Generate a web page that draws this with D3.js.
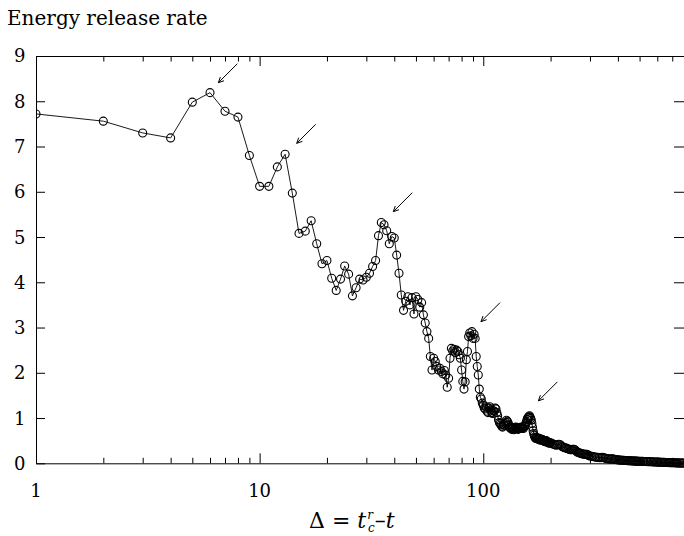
<!DOCTYPE html>
<html>
<head>
<meta charset="utf-8">
<script src="https://cdn.jsdelivr.net/npm/d3@7/dist/d3.min.js"></script>
<style>
  body { margin: 0; background: #fff; }
  svg { display: block; }
  text { font-family: "DejaVu Serif", "Liberation Serif", serif; fill: #000; }
</style>
</head>
<body>
<svg id="chart" width="684" height="536"></svg>
<script>
// Energy release rate against time to rupture, Δ = t_c^r − t (log scale)
const deltaEarly = [1,2,3,4,5,6,7,8,9,10, 11,12,13,14,15,16,17,18,19,20,
  21,22,23,24,25,26,27,28,29,30, 31,32,33,34,35,36,37,38,39,40,
  41,42,43,44,45,46,47,48,49,50, 51,52,53,54,55,56,57,58,59,60,
  61,62,63,64,65,66,67,68,69,70, 71,72,73,74,75,76,77,78,79,80,
  81,82,83,84,85,86,87,88,89,90, 91,92,93,94,95,96,97,98,99];
const energyEarly = [7.72,7.56,7.30,7.19,7.98,8.19,7.78,7.65,6.80,6.12,
  6.12,6.55,6.83,5.97,5.08,5.13,5.36,4.85,4.41,4.48,
  4.09,3.82,4.07,4.36,4.18,3.70,3.88,4.07,4.05,4.11,
  4.20,4.35,4.48,5.03,5.32,5.27,5.14,4.85,5.01,4.98,
  4.60,4.20,3.72,3.38,3.58,3.68,3.50,3.66,3.30,3.68,
  3.62,3.45,3.55,3.28,3.10,2.91,2.76,2.36,2.06,2.32,
  2.25,2.14,2.06,2.10,2.03,1.98,2.05,1.95,1.68,1.88,
  2.32,2.54,2.48,2.52,2.45,2.50,2.47,2.40,2.32,2.06,
  1.81,1.64,1.80,2.29,2.47,2.80,2.88,2.82,2.91,2.76,
  2.85,2.76,2.36,2.14,1.95,1.64,1.46,1.42,1.33];

const deltaMid = [100,101,102,103,104,105,106,107,108,109,
  110,111,112,113,114,115,116,117,118,119,
  120,121,122,123,124,125,126,127,128,129,
  130,131,132,133,134,135,136,137,138,139,
  140,141,142,143,144,145,146,147,148,149,
  150,151,152,153,154,155,156,157,158,159,
  160,161,162,163,164,165,166,167,168,169,
  170,171,172,173,174,175,176,177,178,179,
  180,181,182,183,184,185,186,187,188,189,
  190,191,192,193,194,195,196,197,198,199];
const energyMid = [1.28,1.22,1.20,1.25,1.15,1.12,1.22,1.25,1.18,1.12,
  1.10,1.16,1.15,1.22,1.20,1.12,1.05,0.96,0.90,0.88,
  0.85,0.82,0.80,0.86,0.84,0.88,0.90,0.95,0.93,0.90,
  0.85,0.80,0.78,0.80,0.75,0.77,0.78,0.74,0.76,0.79,
  0.80,0.77,0.78,0.75,0.76,0.78,0.79,0.77,0.80,0.79,
  0.78,0.77,0.80,0.82,0.84,0.88,0.92,0.97,1.00,1.02,
  1.03,1.05,1.02,0.99,0.95,0.88,0.80,0.72,0.66,0.62,
  0.58,0.56,0.55,0.57,0.56,0.54,0.53,0.55,0.55,0.53,
  0.51,0.52,0.53,0.53,0.52,0.51,0.50,0.49,0.48,0.48,
  0.49,0.50,0.49,0.48,0.47,0.46,0.45,0.45,0.46,0.45];

const deltaTail = [200,203,206,209,212,215,218,221,224,227,230,233,236,239,242,245,248,
  251,254,257,260,263,266,269,272,275,278,281,284,287,290,293,296,
  300,305,310,315,320,325,330,335,340,345,350,355,360,365,370,375,380,385,390,395,
  400,405,410,415,420,425,430,435,440,445,450,455,460,465,470,475,480,485,490,495,
  500,508,516,524,532,540,548,556,564,572,580,588,596,604,612,620,628,636,644,652,
  660,668,676,684,692,700,708,716,724,732,740,748,756,764,772,780,788];
const energyTail = [0.45,0.44,0.42,0.41,0.40,0.41,0.42,0.41,0.38,0.36,0.35,0.34,0.33,0.32,0.31,0.30,0.30,
  0.31,0.31,0.30,0.27,0.25,0.24,0.23,0.22,0.21,0.21,0.20,0.20,0.20,0.20,0.19,0.17,
  0.160,0.155,0.150,0.140,0.135,0.130,0.125,0.125,0.130,0.125,0.115,0.105,0.100,0.097,0.095,0.097,0.098,0.090,0.083,0.078,
  0.075,0.073,0.070,0.068,0.066,0.064,0.063,0.062,0.060,0.058,0.057,0.055,0.054,0.052,0.050,0.049,0.048,0.047,0.046,0.045,
  0.044,0.043,0.042,0.040,0.039,0.037,0.036,0.034,0.033,0.031,0.030,0.029,0.027,0.026,0.025,0.023,0.022,0.021,0.020,0.019,
  0.018,0.017,0.016,0.015,0.014,0.013,0.012,0.011,0.010,0.009,0.008,0.008,0.007,0.006,0.006,0.005,0.005];

const xMajorTicks = [1, 10, 100];
const xMinorTicks = [2,3,4,5,6,7,8,9,20,30,40,50,60,70,80,90,200,300,400,500,600,700];
const yTicks = [0,1,2,3,4,5,6,7,8,9];

// precursor peaks marked with arrows
const arrowDelta = [6.54, 14.65, 39.6, 97.7, 176.4];
const arrowEnergy = [8.41, 7.07, 5.56, 3.13, 1.38];

const delta = deltaEarly.concat(deltaMid, deltaTail);
const energy = energyEarly.concat(energyMid, energyTail);
const points = delta.map((d, i) => ({ d: d, e: energy[i] }));

const W = 684, H = 536;
const mLeft = 36, mRight = 684, mTop = 56, mBottom = 463.3;

const svg = d3.select("#chart");
const x = d3.scaleLog().domain([1, 790]).range([mLeft, mRight]);
const y = d3.scaleLinear().domain([0, 9]).range([mBottom, mTop]);

// tick marks point into the frame on all four sides
function styleAxis(g) {
  g.select(".domain").remove();
  g.selectAll(".tick line").attr("stroke", "#000").attr("stroke-width", 1);
  g.selectAll(".tick text").remove();
}
svg.append("g").attr("transform", `translate(0,${mBottom})`)
  .call(d3.axisBottom(x).tickValues(xMajorTicks).tickSize(-10).tickFormat(""))
  .call(styleAxis);
svg.append("g").attr("transform", `translate(0,${mBottom})`)
  .call(d3.axisBottom(x).tickValues(xMinorTicks).tickSize(-5.5).tickFormat(""))
  .call(styleAxis);
svg.append("g").attr("transform", `translate(0,${mTop})`)
  .call(d3.axisTop(x).tickValues(xMajorTicks).tickSize(-10).tickFormat(""))
  .call(styleAxis);
svg.append("g").attr("transform", `translate(0,${mTop})`)
  .call(d3.axisTop(x).tickValues(xMinorTicks).tickSize(-5.5).tickFormat(""))
  .call(styleAxis);
svg.append("g").attr("transform", `translate(${mLeft},0)`)
  .call(d3.axisLeft(y).tickValues(yTicks).tickSize(-9).tickFormat(""))
  .call(styleAxis);
svg.append("g").attr("transform", `translate(${mRight},0)`)
  .call(d3.axisRight(y).tickValues(yTicks).tickSize(-10).tickFormat(""))
  .call(styleAxis);

// frame
svg.append("path")
  .attr("d", `M${mRight + 1},${mTop + 0.5}H${mLeft + 0.5}V${mBottom + 0.5}H${mRight + 1}`)
  .attr("fill", "none").attr("stroke", "#000").attr("stroke-width", 1);

// tick labels
svg.append("g").selectAll("text").data(yTicks).join("text")
  .attr("x", 25.5).attr("y", d => y(d)).attr("dy", "0.36em")
  .attr("text-anchor", "end").attr("font-size", 18)
  .text(d => d);
svg.append("g").selectAll("text").data(xMajorTicks).join("text")
  .attr("x", d => x(d)).attr("y", 497)
  .attr("text-anchor", "middle").attr("font-size", 18)
  .text(d => d);

// titles
svg.append("text").attr("x", 7).attr("y", 25).attr("font-size", 20)
  .text("Energy release rate");
const xt = svg.append("text").attr("x", 309).attr("y", 528).attr("font-size", 22);
xt.append("tspan").text("Δ = ");
xt.append("tspan").attr("font-style", "italic").text("t");
xt.append("tspan").attr("font-style", "italic").attr("font-size", 12).attr("dx", 1).attr("dy", -9).text("r");
xt.append("tspan").attr("font-style", "italic").attr("font-size", 12).attr("dx", -5).attr("dy", 13).text("c");
xt.append("tspan").attr("dy", -4).text("–");
xt.append("tspan").attr("font-style", "italic").text("t");

// data
svg.append("clipPath").attr("id", "plotclip")
  .append("rect").attr("x", mLeft).attr("y", 0).attr("width", W - mLeft).attr("height", H);
const plot = svg.append("g").attr("clip-path", "url(#plotclip)");

plot.append("path").datum(points)
  .attr("d", d3.line().x(p => x(p.d)).y(p => y(p.e)))
  .attr("fill", "none").attr("stroke", "#000").attr("stroke-width", 0.9);

plot.append("g").selectAll("circle").data(points).join("circle")
  .attr("cx", p => x(p.d)).attr("cy", p => y(p.e)).attr("r", 4)
  .attr("fill", "none").attr("stroke", "#000").attr("stroke-width", 1.1);

// arrows
const arrowLen = 19, headLen = 6, headAng = 0.45;
const arrows = svg.append("g").attr("stroke", "#000").attr("stroke-width", 1).attr("fill", "none");
arrowDelta.forEach((d, i) => {
  const tx = x(d), ty = y(arrowEnergy[i]);
  const ang = Math.atan2(-arrowLen, arrowLen); // direction from tip back to tail
  const h1 = [tx + headLen * Math.cos(ang + headAng), ty + headLen * Math.sin(ang + headAng)];
  const h2 = [tx + headLen * Math.cos(ang - headAng), ty + headLen * Math.sin(ang - headAng)];
  arrows.append("path")
    .attr("d", `M${tx + arrowLen},${ty - arrowLen}L${tx},${ty}M${h1[0]},${h1[1]}L${tx},${ty}L${h2[0]},${h2[1]}`);
});
</script>
</body>
</html>
